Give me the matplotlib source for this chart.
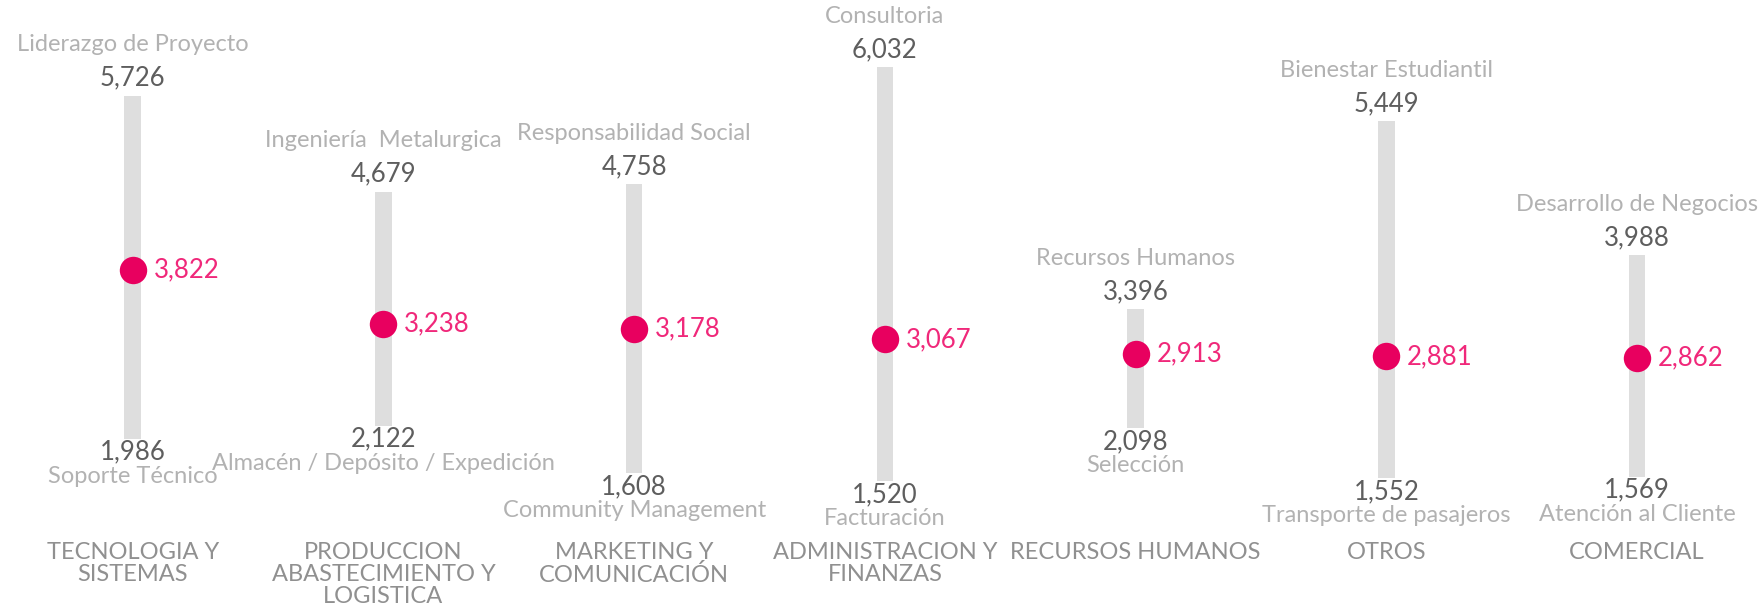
import matplotlib
matplotlib.use("Agg")
import matplotlib.pyplot as plt
import matplotlib.transforms as mtransforms

categories = [
    "TECNOLOGIA Y\nSISTEMAS",
    "PRODUCCION\nABASTECIMIENTO Y\nLOGISTICA",
    "MARKETING Y\nCOMUNICACIÓN",
    "ADMINISTRACION Y\nFINANZAS",
    "RECURSOS HUMANOS",
    "OTROS",
    "COMERCIAL",
]
high_values = [5726, 4679, 4758, 6032, 3396, 5449, 3988]
high_labels = [
    "Liderazgo de Proyecto", "Ingeniería  Metalurgica", "Responsabilidad Social",
    "Consultoria", "Recursos Humanos", "Bienestar Estudiantil", "Desarrollo de Negocios",
]
low_values = [1986, 2122, 1608, 1520, 2098, 1552, 1569]
low_labels = [
    "Soporte Técnico", "Almacén / Depósito / Expedición", "Community Management",
    "Facturación", "Selección", "Transporte de pasajeros", "Atención al Cliente",
]
avg_values = [3822, 3238, 3178, 3067, 2913, 2881, 2862]

plt.rcParams["font.family"] = ["Lato", "DejaVu Sans"]

BAR = "#DEDEDE"
PINK = "#E8005F"
PINK_TXT = "#F0287A"
NUM = "#5E5E5E"
NAME = "#B2B2B2"
CAT = "#909090"
W = "normal"

fig = plt.figure(figsize=(17.63, 6.05), dpi=100)
ax = fig.add_axes([0, 0, 1, 1])
ax.set_xlim(-0.529, 6.502)
ax.set_ylim(171, 6768)
ax.axis("off")

x = list(range(len(categories)))
heights = [h - l for h, l in zip(high_values, low_values)]
ax.bar(x, heights, bottom=low_values, width=0.066, color=BAR, zorder=1)
ax.scatter(x, avg_values, s=390, color=PINK, zorder=3, linewidths=0)

fs = 18.5
fn = 17
for i in x:
    ax.annotate(f"{high_values[i]:,}", (i, high_values[i]), xytext=(0, 12.5),
                textcoords="offset points", ha="center", va="center",
                fontsize=fs, color=NUM, fontweight=W)
    ax.annotate(high_labels[i], (i, high_values[i]), xytext=(0, 36.5),
                textcoords="offset points", ha="center", va="center",
                fontsize=fn, color=NAME, fontweight=W)
    ax.annotate(f"{low_values[i]:,}", (i, low_values[i]), xytext=(0, -9.5),
                textcoords="offset points", ha="center", va="center",
                fontsize=fs, color=NUM, fontweight=W)
    ax.annotate(low_labels[i], (i, low_values[i]), xytext=(0, -27),
                textcoords="offset points", ha="center", va="center",
                fontsize=fn, color=NAME, fontweight=W)
    ax.annotate(f"{avg_values[i]:,}", (i, avg_values[i]), xytext=(15, 0),
                textcoords="offset points", ha="left", va="center",
                fontsize=fs, color=PINK_TXT, fontweight=W)

trans = mtransforms.blended_transform_factory(ax.transData, ax.transAxes)
for i, cat in zip(x, categories):
    ax.text(i, 0.104, cat, transform=trans, ha="center", va="top",
            fontsize=fn, color=CAT, linespacing=1.05, fontweight=W)

fig.savefig("out.png", dpi=100, facecolor="white")
